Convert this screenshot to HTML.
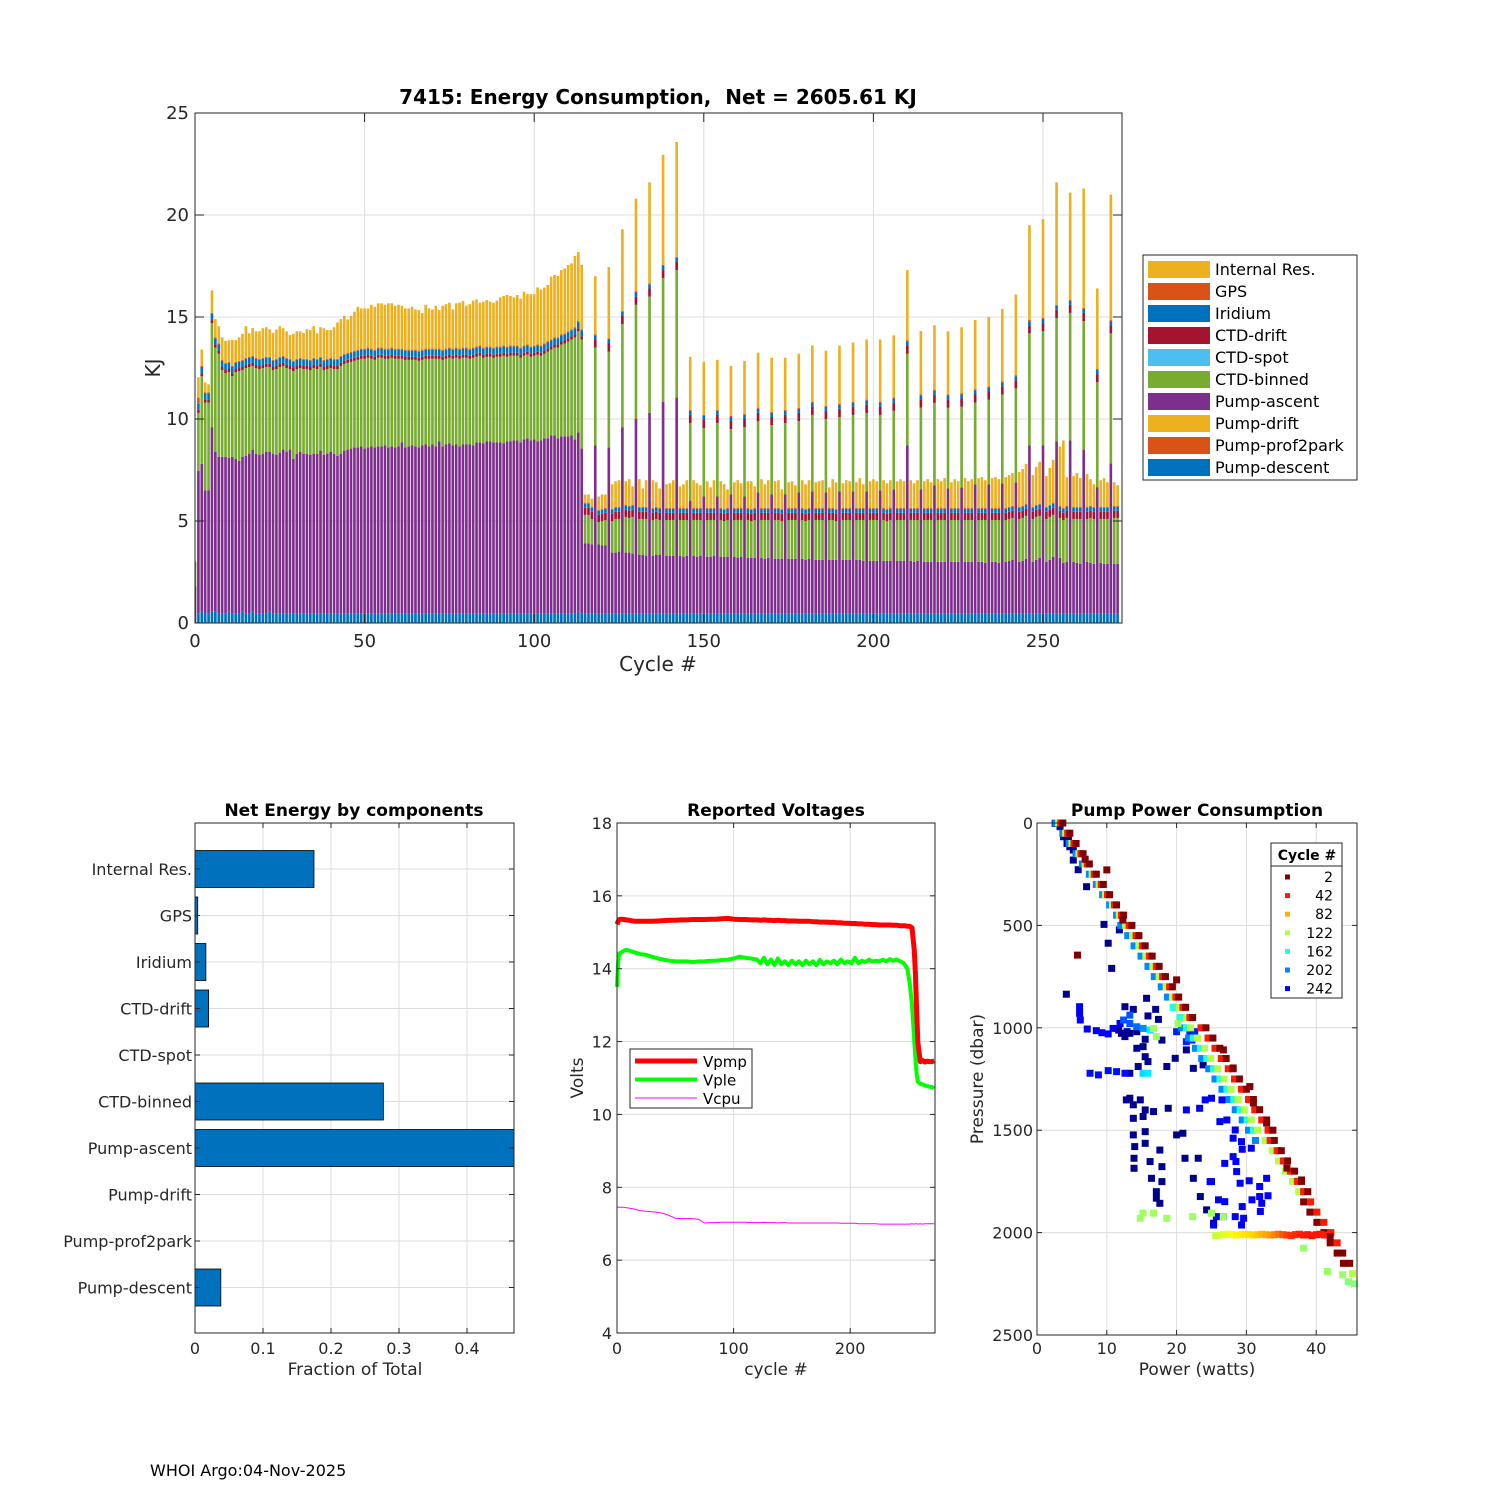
<!DOCTYPE html>
<html><head><meta charset="utf-8"><style>
body{margin:0;background:#fff;}
svg{display:block;font-family:"DejaVu Sans","Liberation Sans",sans-serif;}
</style></head><body>
<svg id="fig" width="1500" height="1500" viewBox="0 0 1500 1500" xmlns="http://www.w3.org/2000/svg">
<rect width="1500" height="1500" fill="#fff"/>
<g id="top"></g>
<g id="bl"></g>
<g id="bm"></g>
<g id="br"></g>
<text x="150" y="1476" font-size="16" fill="#000">WHOI Argo:04-Nov-2025</text>
</svg>
<script>
// ===== Top chart data (per cycle 0..272) =====
const descent=[0.3,0.45,0.55,0.45,0.45,0.55,0.55,0.45,0.45,0.45,
0.55,0.45,0.45,0.45,0.55,0.45,0.45,0.55,0.45,0.45,
0.45,0.45,0.55,0.45,0.45,0.45,0.45,0.45,0.45,0.45,
0.45,0.45,0.45,0.45,0.45,0.45,0.45,0.45,0.45,0.45,
0.45,0.45,0.45,0.45,0.45,0.45,0.45,0.45,0.45,0.45,
0.45,0.45,0.45,0.45,0.45,0.45,0.45,0.45,0.45,0.45,
0.45,0.45,0.45,0.45,0.45,0.45,0.45,0.45,0.45,0.45,
0.45,0.45,0.45,0.45,0.45,0.45,0.45,0.45,0.45,0.45,
0.45,0.45,0.45,0.45,0.45,0.45,0.45,0.45,0.45,0.45,
0.45,0.45,0.45,0.45,0.45,0.45,0.45,0.45,0.45,0.45,
0.45,0.45,0.45,0.45,0.45,0.45,0.45,0.45,0.45,0.45,
0.45,0.45,0.45,0.55,0.45,0.45,0.45,0.45,0.45,0.45,
0.45,0.45,0.45,0.45,0.45,0.45,0.45,0.45,0.45,0.45,
0.45,0.45,0.45,0.45,0.45,0.45,0.45,0.45,0.45,0.45,
0.45,0.45,0.45,0.45,0.45,0.45,0.45,0.45,0.45,0.45,
0.45,0.45,0.45,0.45,0.45,0.45,0.45,0.45,0.45,0.45,
0.45,0.45,0.45,0.45,0.45,0.45,0.45,0.45,0.45,0.45,
0.45,0.45,0.45,0.45,0.45,0.45,0.45,0.45,0.45,0.45,
0.45,0.45,0.45,0.45,0.45,0.45,0.45,0.45,0.45,0.45,
0.45,0.45,0.45,0.45,0.45,0.45,0.45,0.45,0.45,0.45,
0.45,0.45,0.45,0.45,0.45,0.45,0.45,0.45,0.45,0.45,
0.45,0.45,0.45,0.45,0.45,0.45,0.45,0.45,0.45,0.45,
0.45,0.45,0.45,0.45,0.45,0.45,0.45,0.45,0.45,0.45,
0.45,0.45,0.45,0.45,0.45,0.45,0.45,0.45,0.45,0.45,
0.45,0.45,0.45,0.45,0.45,0.45,0.45,0.45,0.45,0.45,
0.45,0.45,0.45,0.45,0.45,0.45,0.45,0.45,0.45,0.45,
0.45,0.45,0.45,0.45,0.45,0.45,0.45,0.45,0.45,0.45,
0.45,0.45,0.45];
const ascent=[1.5,7.0,7.25,6.05,6.05,9.05,7.85,7.7,7.7,7.7,
7.55,7.7,7.6,7.5,7.6,7.75,7.85,7.95,7.85,7.8,
7.85,7.95,7.85,7.85,7.8,7.9,8.05,7.95,8.05,7.6,
7.85,7.95,7.85,7.85,7.8,7.85,7.85,8.0,7.8,7.85,
7.95,7.85,7.75,7.85,8.0,8.05,8.1,8.15,8.15,8.2,
8.1,8.15,8.2,8.15,8.2,8.2,8.25,8.15,8.2,8.15,
8.2,8.4,8.15,8.2,8.25,8.2,8.15,8.25,8.3,8.2,
8.3,8.2,8.45,8.2,8.3,8.35,8.25,8.3,8.2,8.3,
8.3,8.3,8.25,8.4,8.4,8.35,8.45,8.45,8.4,8.4,
8.4,8.35,8.45,8.45,8.5,8.5,8.4,8.55,8.6,8.5,
8.55,8.45,8.5,8.6,8.6,8.75,8.75,8.6,8.7,8.7,
8.7,8.75,8.55,8.8,8.1,
3.45,3.45,3.4,8.25,3.4,
3.35,3.35,8.15,3.0,3.0,3.05,9.15,3.0,3.0,2.95,
9.55,2.9,2.9,2.85,9.85,2.85,2.9,2.9,10.4,2.85,
2.85,2.85,10.6,2.85,2.8,2.85,5.55,2.85,2.8,2.85,
5.75,2.8,2.8,2.85,5.75,2.8,2.8,2.8,5.85,2.8,
2.75,2.8,5.75,2.75,2.75,2.75,5.95,2.75,2.7,2.75,
5.85,2.7,2.7,2.7,5.85,2.7,2.7,2.7,5.95,2.7,
2.65,2.7,6.0,2.65,2.65,2.65,5.95,2.65,2.65,2.65,
6.0,2.65,2.65,2.65,6.0,2.65,2.65,2.6,6.0,2.6,
2.6,2.6,6.05,2.6,2.6,2.6,6.1,2.6,2.6,2.6,
8.25,2.6,2.55,2.6,6.11,2.55,2.55,2.55,6.29,2.55,
2.55,2.55,6.15,2.55,2.55,2.55,6.2,2.55,2.55,2.55,
6.35,2.55,2.55,2.5,6.35,2.55,2.55,2.5,6.4,2.55,
2.6,2.65,6.45,2.55,2.6,2.7,8.25,2.55,2.65,2.75,
8.25,2.55,2.65,2.8,8.45,2.75,2.5,2.55,8.5,2.55,
2.5,2.45,8.05,2.55,2.5,2.45,6.21,2.5,2.45,2.45,
7.38,2.45,2.45];
const binned=[1.1,2.85,4.3,4.3,4.3,5.1,5.1,5.05,4.25,4.1,
4.2,3.95,4.25,4.4,4.25,4.3,4.25,4.1,4.2,4.2,
4.2,4.15,4.15,4.1,4.2,4.2,4.1,4.1,3.95,4.3,
4.15,4.1,4.15,4.15,4.15,4.2,4.15,4.1,4.15,4.15,
4.1,4.15,4.25,4.3,4.25,4.25,4.25,4.25,4.3,4.3,
4.4,4.4,4.3,4.3,4.35,4.35,4.25,4.35,4.35,4.35,
4.3,4.1,4.3,4.25,4.2,4.25,4.25,4.2,4.2,4.3,
4.2,4.3,4.05,4.25,4.2,4.2,4.25,4.25,4.3,4.25,
4.25,4.2,4.3,4.2,4.25,4.2,4.15,4.15,4.15,4.2,
4.2,4.3,4.15,4.2,4.15,4.15,4.15,4.1,4.1,4.1,
4.1,4.25,4.15,4.15,4.25,4.2,4.3,4.45,4.5,4.55,
4.65,4.7,5.0,4.95,5.35,
1.4,1.4,1.25,4.8,1.1,
1.2,1.25,4.7,1.55,1.65,1.6,5.05,1.75,1.7,1.8,
5.6,1.75,1.75,1.8,5.7,1.75,1.75,1.7,6.05,1.75,
1.75,1.75,6.25,1.75,1.8,1.75,3.8,1.75,1.8,1.75,
3.35,1.8,1.8,1.75,3.6,1.8,1.75,1.8,3.2,1.8,
1.85,1.8,3.4,1.85,1.8,1.85,3.5,1.85,1.9,1.85,
3.4,1.9,1.9,1.85,3.5,1.9,1.9,1.9,3.5,1.9,
1.9,1.9,3.75,1.95,1.95,1.95,3.6,1.95,1.95,1.9,
3.65,1.95,1.95,1.95,3.75,1.95,1.95,2.0,3.85,2.0,
2.0,2.0,3.7,2.0,1.95,2.0,3.85,2.0,2.0,2.0,
4.5,2.0,2.05,2.0,4.0,2.05,2.05,2.05,4.05,2.05,
2.05,2.05,3.95,2.05,2.05,2.05,3.95,2.05,2.05,2.05,
4.0,2.05,2.05,2.1,4.15,2.05,2.05,2.1,4.35,2.05,
2.05,2.05,4.6,2.1,2.1,2.1,5.5,2.1,2.1,2.05,
5.6,2.1,2.1,2.05,6.05,1.95,2.1,2.15,6.25,2.1,
2.15,2.2,6.3,2.1,2.2,2.2,5.14,2.15,2.2,2.2,
6.37,2.25,2.25];
const ctdDrift=[0.05,0.15,0.15,0.15,0.15,0.15,0.15,0.15,0.15,0.15,
0.15,0.15,0.15,0.15,0.15,0.15,0.15,0.15,0.15,0.15,
0.15,0.15,0.15,0.15,0.15,0.15,0.15,0.15,0.15,0.15,
0.15,0.15,0.15,0.15,0.15,0.15,0.15,0.15,0.15,0.15,
0.15,0.15,0.15,0.15,0.15,0.15,0.15,0.15,0.15,0.15,
0.15,0.15,0.15,0.15,0.15,0.15,0.15,0.15,0.15,0.15,
0.15,0.15,0.15,0.15,0.15,0.15,0.15,0.15,0.15,0.15,
0.15,0.15,0.15,0.15,0.15,0.15,0.15,0.15,0.15,0.15,
0.15,0.15,0.15,0.15,0.15,0.15,0.15,0.15,0.15,0.15,
0.15,0.15,0.15,0.15,0.15,0.15,0.15,0.15,0.15,0.15,
0.15,0.15,0.15,0.15,0.15,0.15,0.15,0.15,0.15,0.15,
0.15,0.15,0.15,0.15,0.15,
0.35,0.35,0.35,0.4,0.35,0.35,0.35,0.4,0.35,0.35,0.35,0.4,0.35,0.35,0.35,0.4,
0.35,0.35,0.35,0.4,0.35,0.35,0.35,0.4,0.35,0.35,0.35,0.4,0.35,0.35,0.35,0.4,
0.35,0.35,0.35,0.4,0.35,0.35,0.35,0.4,0.35,0.35,0.35,0.4,0.35,0.35,0.35,0.4,
0.35,0.35,0.35,0.4,0.35,0.35,0.35,0.4,0.35,0.35,0.35,0.4,0.35,0.35,0.35,0.4,
0.35,0.35,0.35,0.4,0.35,0.35,0.35,0.4,0.35,0.35,0.35,0.4,0.35,0.35,0.35,0.4,
0.35,0.35,0.35,0.4,0.35,0.35,0.35,0.4,0.35,0.35,0.35,0.4,0.35,0.35,0.35,0.4,
0.35,0.35,0.35,0.4,0.35,0.35,0.35,0.4,0.35,0.35,0.35,0.4,0.35,0.35,0.35,0.4,
0.35,0.35,0.35,0.4,0.35,0.35,0.35,0.4,0.35,0.35,0.35,0.4,0.35,0.35,0.35,0.4,
0.35,0.35,0.35,0.4,0.35,0.35,0.35,0.4,0.35,0.35,0.35,0.4,0.35,0.35,0.35,0.4,
0.35,0.35,0.35,0.4,0.35,0.35,0.35,0.4,0.35,0.35,0.35,0.4,
0.35,0.35];
const iridium=[0,0.3,0.3,0.3,0.3,0.3,0.3,0.3,0.3,0.3,
0.3,0.3,0.3,0.3,0.3,0.3,0.3,0.3,0.3,0.3,
0.3,0.3,0.3,0.3,0.3,0.3,0.3,0.3,0.3,0.3,
0.3,0.3,0.3,0.3,0.3,0.3,0.3,0.3,0.3,0.3,
0.3,0.3,0.3,0.3,0.3,0.3,0.3,0.3,0.3,0.3,
0.3,0.3,0.3,0.3,0.3,0.3,0.3,0.3,0.3,0.3,
0.3,0.3,0.3,0.3,0.3,0.3,0.3,0.3,0.3,0.3,
0.3,0.3,0.3,0.3,0.3,0.3,0.3,0.3,0.3,0.3,
0.3,0.3,0.3,0.3,0.3,0.3,0.3,0.3,0.3,0.3,
0.3,0.3,0.3,0.3,0.3,0.3,0.3,0.3,0.3,0.3,
0.3,0.3,0.3,0.3,0.3,0.3,0.3,0.3,0.3,0.3,
0.3,0.3,0.3,0.3,0.3,
0.2,0.2,0.2,0.2,0.2,0.2,0.2,0.2,0.2,0.2,0.2,0.2,0.2,0.2,0.2,0.2,0.2,0.2,0.2,0.2,
0.2,0.2,0.2,0.2,0.2,0.2,0.2,0.2,0.2,0.2,0.2,0.2,0.2,0.2,0.2,0.2,0.2,0.2,0.2,0.2,
0.2,0.2,0.2,0.2,0.2,0.2,0.2,0.2,0.2,0.2,0.2,0.2,0.2,0.2,0.2,0.2,0.2,0.2,0.2,0.2,
0.2,0.2,0.2,0.2,0.2,0.2,0.2,0.2,0.2,0.2,0.2,0.2,0.2,0.2,0.2,0.2,0.2,0.2,0.2,0.2,
0.2,0.2,0.2,0.2,0.2,0.2,0.2,0.2,0.2,0.2,0.2,0.2,0.2,0.2,0.2,0.2,0.2,0.2,0.2,0.2,
0.2,0.2,0.2,0.2,0.2,0.2,0.2,0.2,0.2,0.2,0.2,0.2,0.2,0.2,0.2,0.2,0.2,0.2,0.2,0.2,
0.2,0.2,0.2,0.2,0.2,0.2,0.2,0.2,0.2,0.2,0.2,0.2,0.2,0.2,0.2,0.2,0.2,0.2,0.2,0.2,
0.2,0.2,0.2,0.2,0.2,0.2,0.2,0.2,0.2,0.2,0.2,0.2,0.2,0.2,0.2,0.2,0.2,0.2];
const gps=[0,0.3,0.05,0.05,0.05,0.05,0.05,0.05,0.05,0.05,
0.05,0.05,0.05,0.05,0.05,0.05,0.05,0.05,0.05,0.05,0.05,0.05,0.05,0.05,0.05,0.05,0.05,0.05,0.05,0.05,
0.05,0.05,0.05,0.05,0.05,0.05,0.05,0.05,0.05,0.05,0.05,0.05,0.05,0.05,0.05,0.05,0.05,0.05,0.05,0.05,
0.05,0.05,0.05,0.05,0.05,0.05,0.05,0.05,0.05,0.05,0.05,0.05,0.05,0.05,0.05,0.05,0.05,0.05,0.05,0.05,
0.05,0.05,0.05,0.05,0.05,0.05,0.05,0.05,0.05,0.05,0.05,0.05,0.05,0.05,0.05,0.05,0.05,0.05,0.05,0.05,
0.05,0.05,0.05,0.05,0.05,0.05,0.05,0.05,0.05,0.05,0.05,0.05,0.05,0.05,0.05,0.05,0.05,0.05,0.05,0.05,
0.05,0.05,0.05,0.05,0.05,0.05,0.05,0.05,0.05,0.05,0.05,0.05,0.05,0.05,0.05,0.05,0.05,0.05,0.05,0.05,
0.05,0.05,0.05,0.05,0.05,0.05,0.05,0.05,0.05,0.05,0.05,0.05,0.05,0.05,0.05,0.05,0.05,0.05,0.05,0.05,
0.05,0.05,0.05,0.05,0.05,0.05,0.05,0.05,0.05,0.05,0.05,0.05,0.05,0.05,0.05,0.05,0.05,0.05,0.05,0.05,
0.05,0.05,0.05,0.05,0.05,0.05,0.05,0.05,0.05,0.05,0.05,0.05,0.05,0.05,0.05,0.05,0.05,0.05,0.05,0.05,
0.05,0.05,0.05,0.05,0.05,0.05,0.05,0.05,0.05,0.05,0.05,0.05,0.05,0.05,0.05,0.05,0.05,0.05,0.05,0.05,
0.05,0.05,0.05,0.05,0.05,0.05,0.05,0.05,0.05,0.05,0.05,0.05,0.05,0.05,0.05,0.05,0.05,0.05,0.05,0.05,
0.05,0.05,0.05,0.05,0.05,0.05,0.05,0.05,0.05,0.05,0.05,0.05,0.05,0.05,0.05,0.05,0.05,0.05,0.05,0.05,
0.05,0.05,0.05,0.05,0.05,0.05,0.05,0.05,0.05,0.05,0.05,0.05,0.05,0.05,0.05,0.05,0.05,0.05,0.05,0.05,
0.05,0.05,0.05];
const internalRes=[0.1,1.0,0.8,0.5,0.4,1.1,0.9,0.85,1.1,1.08,
1.06,1.27,1.07,1.15,1.27,1.55,1.15,1.36,1.3,1.35,
1.45,1.45,1.35,1.32,1.44,1.5,1.35,1.3,1.17,1.32,
1.35,1.3,1.27,1.45,1.46,1.55,1.25,1.45,1.55,1.41,
1.36,1.55,1.78,1.8,1.85,1.63,1.75,1.91,2.1,1.97,
1.97,1.92,2.15,2.1,2.17,2.17,2.15,2.22,2.17,2.1,
2.15,2.1,2.02,2.02,2.1,1.97,1.99,1.8,2.15,1.97,
1.92,2.1,1.89,2.15,2.18,2.2,1.92,2.17,2.25,2.28,
2.05,2.18,2.3,2.31,2.1,2.25,2.28,2.2,2.2,2.25,
2.41,2.43,2.53,2.43,2.36,2.48,2.4,2.64,2.47,2.57,
2.52,2.8,2.75,2.74,2.77,3.08,3.06,3.01,3.15,3.18,
3.25,3.23,3.49,3.39,3.15,
0.4,0.4,0.4,2.85,0.65,
0.7,0.65,3.5,1.2,1.25,1.3,4.0,1.15,1.3,0.9,
4.55,1.35,0.9,1.3,4.95,1.35,1.2,0.95,5.4,1.15,
1.2,1.35,5.63,1.05,1.15,1.35,2.6,1.35,1.2,1.1,
2.6,1.3,1.0,1.35,2.45,1.3,1.2,0.9,2.45,1.25,
1.35,1.2,2.6,1.3,1.35,1.05,2.7,1.4,1.15,1.35,
2.65,1.3,1.35,0.95,2.55,1.25,1.3,1.1,2.65,1.35,
1.2,1.35,2.75,1.25,1.3,1.35,2.7,1.0,1.4,1.3,
2.85,1.2,1.35,1.3,2.9,1.25,1.45,1.15,2.95,1.3,
1.4,1.3,3.05,1.35,1.25,1.35,3.05,1.3,1.4,1.3,
3.45,1.35,1.2,1.35,3.1,1.3,1.4,1.25,3.15,1.4,
1.3,1.45,3.1,1.25,1.4,1.3,3.25,1.45,1.3,1.4,
3.4,1.45,1.5,1.35,3.4,1.45,1.5,1.4,3.55,1.5,
1.55,1.6,3.95,1.7,1.8,1.95,4.65,1.55,1.85,2.05,
4.85,1.5,1.8,2.1,6.0,2.9,3.3,1.4,5.25,1.5,
1.65,1.4,5.85,1.6,1.3,1.1,3.95,1.3,1.4,1.2,
6.15,1.15,1.0];
const topXTicks=[0,50,100,150,200,250];
const topYTicks=[0,5,10,15,20,25];
const legendNames=["Internal Res.","GPS","Iridium","CTD-drift","CTD-spot","CTD-binned","Pump-ascent","Pump-drift","Pump-prof2park","Pump-descent"];

// ===== Net energy by components =====
const compNames=["Internal Res.","GPS","Iridium","CTD-drift","CTD-spot","CTD-binned","Pump-ascent","Pump-drift","Pump-prof2park","Pump-descent"];
const compFrac=[0.175,0.004,0.016,0.020,0,0.277,0.470,0,0,0.038];
const fracTicks=[0,0.1,0.2,0.3,0.4];

// ===== Voltages =====
const voltCycle=[0,1,2,4,6,8,10,15,20,25,30,35,40,45,50,55,60,65,70,75,80,85,90,95,100,105,110,115,120,
123,126,129,132,135,138,141,144,147,150,153,156,159,162,165,168,171,174,177,180,183,186,189,192,195,198,201,204,207,210,213,216,219,222,225,228,231,234,237,240,243,246,249,
251,253,255,256,257,258,260,262,264,266,268,270,272];
const vpmp=[15.22,15.3,15.35,15.36,15.35,15.34,15.33,
15.3,15.3,15.3,15.3,15.31,15.32,15.33,15.33,15.34,15.34,15.35,15.35,15.35,15.36,15.36,15.37,15.38,15.36,15.35,15.35,15.34,15.34,
15.33,15.34,15.33,15.33,15.32,15.33,15.32,15.32,15.31,15.31,15.31,15.3,15.3,15.3,15.3,15.29,15.29,15.28,15.28,15.28,15.27,15.27,15.26,15.26,15.25,15.25,15.24,15.24,15.23,15.23,15.22,15.22,15.21,15.21,15.2,15.2,15.2,15.2,15.19,15.19,15.18,15.18,15.17,
15.16,15.12,14.5,13.8,12.8,12.0,11.45,11.48,11.44,11.46,11.45,11.45,11.47];
const vple=[13.5,14.2,14.42,14.45,14.5,14.52,14.5,
14.45,14.4,14.38,14.33,14.28,14.25,14.22,14.2,14.2,14.2,14.18,14.2,14.2,14.22,14.22,14.24,14.25,14.28,14.33,14.3,14.28,14.25,
14.15,14.3,14.12,14.25,14.1,14.28,14.12,14.2,14.1,14.22,14.12,14.2,14.1,14.22,14.12,14.2,14.1,14.24,14.12,14.2,14.15,14.22,14.12,14.25,14.15,14.2,14.15,14.3,14.15,14.22,14.18,14.25,14.2,14.22,14.2,14.25,14.2,14.26,14.22,14.25,14.2,14.15,14.0,
13.6,13.0,12.0,11.5,11.1,10.9,10.85,10.82,10.8,10.78,10.76,10.75,10.72];
const vcpu=[7.45,7.45,7.45,7.45,7.45,7.44,7.43,
7.40,7.36,7.34,7.33,7.31,7.28,7.22,7.15,7.14,7.14,7.14,7.12,7.02,7.03,7.03,7.04,7.04,7.04,7.04,7.04,7.03,7.03,
7.03,7.04,7.03,7.03,7.03,7.02,7.03,7.03,7.02,7.02,7.02,7.02,7.02,7.02,7.02,7.02,7.02,7.02,7.02,7.02,7.02,7.02,7.02,7.01,7.01,7.01,7.01,7.01,7.0,7.0,7.0,7.0,7.0,7.0,6.99,6.99,6.99,6.99,6.99,6.99,6.99,6.99,6.99,
6.99,7.0,6.99,7.0,7.0,6.99,7.0,6.99,7.0,7.0,7.0,7.0,7.0];
const voltYTicks=[4,6,8,10,12,14,16,18];
const voltXTicks=[0,100,200];

// ===== Pump power =====
const diagPres=[0,50,100,150,200,250,300,350,400,450,500,550,600,650,700,750,800,850,900,950,1000,1050,1100,1150,1200,1250,1300,1350,1400,1450,1500,1550,1600,1650,1700,1750,1800,1850,1900,1950,2000,2050,2100,2150,2200];
const diagCycles=[2,42,122,162,202];
const diagPowC2=[3.7,4.7,5.6,6.6,7.5,8.5,9.5,10.4,11.4,12.4,13.6,14.6,15.5,16.5,17.5,18.4,19.4,20.3,21.3,22.3,24.2,25.2,26.2,27.1,28.1,29.0,30.0,31.0,31.9,32.9,33.8,34.0,35.0,35.9,36.9,37.9,38.8,38.2,39.1,40.1,41.1,42.0,43.0,43.9,null];
const diagPowC42=[3.4,4.4,5.3,6.3,7.2,8.2,9.2,10.1,11.1,12.1,13.2,14.2,15.1,16.1,17.1,18.0,19.0,19.9,20.9,21.9,23.5,24.5,25.5,26.4,27.4,28.3,29.3,30.3,31.2,32.2,33.1,33.4,34.4,35.3,36.3,37.3,38.2,39.2,40.1,41.1,42.1,43.0,null,null,null];
const diagPowC122=[3.1,4.1,5.0,6.0,6.9,7.9,8.9,9.8,10.8,11.8,12.7,13.7,14.6,15.6,16.6,17.5,18.5,19.4,20.4,21.4,22.0,23.0,24.0,24.9,25.9,26.8,27.8,28.8,29.7,30.7,31.6,32.7,33.7,34.6,35.6,36.6,37.5,38.5,39.4,40.4,41.4,42.3,43.3,44.2,45.2];
const diagPowC162=[null,null,null,null,null,null,null,null,null,null,null,null,null,null,null,null,null,null,19.5,20.5,21.4,22.4,23.4,24.3,25.3,26.2,27.2,28.2,29.1,30.1,31.0,null,null,null,null,null,null,null,null,null,null,null,null,null,null];
const diagPowC202=[2.7,3.7,4.6,5.6,6.5,7.5,8.5,9.4,10.4,11.4,12.0,13.0,13.9,14.9,15.9,16.8,17.8,18.7,19.7,20.7,20.7,21.7,22.7,23.6,24.6,25.5,26.5,27.5,28.4,29.4,30.3,31.3,null,null,null,null,null,null,null,null,null,null,null,null,null];
const bandPower=[25.6,26.2,26.8,27.4,28.0,28.6,29.2,29.8,30.4,31.0,31.6,32.2,32.8,33.4,34.0,34.6,35.2,35.8,36.4,37.0,37.6,38.2,38.8,39.4,40.0,40.6,41.2];
const bandPres=[2015,2012,2010,2008,2010,2012,2010,2008,2010,2012,2010,2008,2010,2012,2010,2008,2010,2012,2015,2010,2008,2012,2010,2015,2010,2008,2012];
const bandCycle=[118,115,112,108,104,100,98,96,94,92,88,84,80,76,70,64,58,52,48,46,44,42,40,40,40,40,42];
const outPower=[2.6,3.3,3.8,4.3,4.7,3.8,5.2,3.1,4.5,5.2,5.9,7.1,9.6,10.2,11.8,10.7,4.2,12.6,13.8,15.7,17.0,15.9,17.4,12.9,11.7,12.1,13.3,14.3,12.6,15.5,17.9,14.3,15.2,15.5,15.9,14.5,13.3,12.8,13.8,13.3,14.8,15.5,13.8,15.2,15.5,13.8,15.5,14.0,13.9,13.9,16.2,17.6,16.4,17.9,17.9,17.1,17.1,17.6,18.6,18.8,16.7,20.0,20.9,21.2,22.4,23.1,23.4,24.3,25.3,19.8,21.4,22.4,23.8,
6.1,6.1,6.2,7.2,8.5,9.3,10.2,10.9,11.9,7.6,8.8,10.2,11.4,12.6,21.4,23.3,24.1,25.0,26.5,26.2,27.2,28.4,28.1,29.3,29.4,30.7,28.1,26.9,28.5,28.6,30.4,29.1,31.9,32.9,33.1,31.9,30.8,32.2,32.0,29.4,26.9,24.8,25.0,26.0,25.7,26.7,28.4,29.6,29.3,25.3,21.9,22.6,21.4,20.0,22.2,
12.4,13.3,14.3,13.3,15.2,16.2,15.2,15.9,
14.8,15.2,16.7,18.6,22.3,25.0,26.7,16.7,17.1,20.2,38.2,41.6,43.8,45.5,44.6,
5.8,12.3,20.0,26.7,28.1,30.5,31.0,32.9,35.8,37.9,42.0,44.8,43.8,6.9,10.0];
const outPres=[2,18,51,100,116,67,132,0,67,181,228,311,495,587,522,710,836,897,910,856,910,942,959,1019,1011,1027,1027,1019,1043,1056,1060,1100,1092,1141,1165,1189,1222,1352,1376,1344,1352,1401,1442,1433,1507,1523,1564,1580,1637,1686,1653,1597,1735,1678,1751,1800,1832,1857,1189,1393,1409,1523,1515,1637,1735,1637,1824,1889,1954,1149,1108,1198,1181,
897,929,962,1006,1014,1024,1030,1003,979,1222,1230,1209,1214,1222,1401,1393,1352,1344,1352,1458,1450,1499,1539,1556,1593,1588,1629,1662,1653,1702,1747,1759,1775,1735,1820,1824,1840,1857,1897,1873,1849,1751,1751,1840,1922,1922,1922,1930,1963,1963,1019,1019,1068,1019,1060,
962,979,995,938,1003,1011,1222,1222,
1930,1905,1905,1930,1922,1905,1922,1003,1043,979,2076,2190,2206,2250,2240,
645,474,766,1108,1196,1287,1367,1465,1685,1743,2020,2150,2100,177,229];
const outCycle=[268,268,268,268,268,268,268,268,268,268,268,268,268,268,268,268,268,268,268,268,268,268,268,268,268,268,268,268,268,268,268,268,268,268,268,268,268,268,268,268,268,268,268,268,268,268,268,268,268,268,268,268,268,268,268,268,268,268,268,268,268,268,268,268,268,268,268,268,268,268,268,268,268,
240,240,240,240,240,240,240,240,240,235,235,235,235,235,240,240,240,240,240,240,240,240,240,240,240,240,240,240,240,240,240,240,240,240,240,240,240,240,240,240,240,240,240,240,240,240,240,240,240,240,230,230,230,230,230,
215,215,210,215,200,175,180,175,
128,128,128,128,128,128,128,128,128,128,130,130,130,135,135,
2,2,2,2,2,2,2,2,2,2,2,2,2,2,2];
const pumpYTicks=[0,500,1000,1500,2000,2500];
const pumpXTicks=[0,10,20,30,40];
const legendCycles=[2,42,82,122,162,202,242];

// ===== helpers =====
const NS="http://www.w3.org/2000/svg";
function mk(parent,tag,attrs,text){const e=document.createElementNS(NS,tag);for(const k in attrs)e.setAttribute(k,attrs[k]);if(text!==undefined)e.textContent=text;parent.appendChild(e);return e;}
function jet(cycle){let t=1-(cycle-1)/271;t=Math.max(0,Math.min(1,t));const c=v=>Math.round(255*Math.max(0,Math.min(1,v)));
return `rgb(${c(1.5-Math.abs(4*t-3))},${c(1.5-Math.abs(4*t-2))},${c(1.5-Math.abs(4*t-1))})`;}
function frame(g,x0,y0,x1,y1){const r=mk(g,'rect',{x:x0,y:y0,width:x1-x0,height:y1-y0,fill:'none',stroke:'#262626','stroke-width':1});

}

// ===== Top chart =====
(function(){
const g=document.getElementById('top');
const X0=195,X1=1122,Y0=113,Y1=623;
const xs=c=>X0+c*3.392, ys=v=>Y1-v*20.4;
for(const t of topYTicks){if(t>0&&t<25){const l=mk(g,'line',{x1:X0,x2:X1,y1:ys(t),y2:ys(t),stroke:'#dcdcdc','stroke-width':1});

}}
for(const t of topXTicks){if(t>0){const l=mk(g,'line',{x1:xs(t),x2:xs(t),y1:Y0,y2:Y1,stroke:'#dcdcdc','stroke-width':1});

}}
const series=[[descent,'#0072BD','pump-descent'],[ascent,'#7E2F8E','pump-ascent'],[binned,'#77AC30','ctd-binned'],[ctdDrift,'#A2142F','ctd-drift'],[iridium,'#0072BD','iridium'],[gps,'#D95319','gps'],[internalRes,'#EDB120','internal-res']];
const bw=3.392*0.78;
for(let c=0;c<descent.length;c++){
 let base=0;
 for(const [arr,col,nm] of series){const v=arr[c]||0;if(v<=0)continue;
  const r=mk(g,'rect',{x:xs(c)-bw/2,y:ys(base+v),width:bw,height:v*20.4,fill:col});
  
  
  base+=v;}
}
const cl=mk(g,'rect',{x:180,y:Y0,width:X0-180,height:Y1-Y0+1,fill:'#fff'});


frame(g,X0,Y0,X1,Y1);
for(const t of topYTicks){const y=ys(t);
 mk(g,'line',{x1:X0,x2:X0+9,y1:y,y2:y,stroke:'#262626'});mk(g,'line',{x1:X1-9,x2:X1,y1:y,y2:y,stroke:'#262626'});
 const tx=mk(g,'text',{x:X0-6,y:y+6,'font-size':18,'text-anchor':'end',fill:'#262626'},t);
 
 }
for(const t of topXTicks){const x=xs(t);
 mk(g,'line',{x1:x,x2:x,y1:Y1,y2:Y1-9,stroke:'#262626'});mk(g,'line',{x1:x,x2:x,y1:Y0,y2:Y0+9,stroke:'#262626'});
 const tx=mk(g,'text',{x:x,y:Y1+24,'font-size':18,'text-anchor':'middle',fill:'#262626'},t);
 
 }
const ti=mk(g,'text',{x:658,y:104,'font-size':20,'font-weight':'bold','text-anchor':'middle',fill:'#000',style:'white-space:pre'},'7415: Energy Consumption,  Net = 2605.61 KJ');


const xl=mk(g,'text',{x:658,y:671,'font-size':20,'text-anchor':'middle',fill:'#262626'},'Cycle #');


const yl=mk(g,'text',{x:0,y:0,'font-size':20,'text-anchor':'middle',fill:'#262626',transform:'translate(160,368) rotate(-90)'},'KJ');


const lg=mk(g,'g',{});


mk(lg,'rect',{x:1143,y:255,width:214,height:225,fill:'#fff',stroke:'#262626','stroke-width':1});
const lcol=['#EDB120','#D95319','#0072BD','#A2142F','#4DBEEE','#77AC30','#7E2F8E','#EDB120','#D95319','#0072BD'];
legendNames.forEach((n,i)=>{const y=269+i*22;
 const e=mk(lg,'g',{});
 
 
 mk(e,'rect',{x:1148,y:y-8,width:62,height:17,fill:lcol[i]});
 mk(e,'text',{x:1215,y:y+6,'font-size':16,fill:'#000'},n);});
})();

// ===== Net energy by components =====
(function(){
const g=document.getElementById('bl');
const X0=195,X1=514,Y0=823,Y1=1333;
const xs=v=>X0+v*680, ys=i=>869+i*46.5;
for(const t of fracTicks){if(t>0){const l=mk(g,'line',{x1:xs(t),x2:xs(t),y1:Y0,y2:Y1,stroke:'#dcdcdc'});

}}
compNames.forEach((n,i)=>{const l=mk(g,'line',{x1:X0,x2:X1,y1:ys(i),y2:ys(i),stroke:'#dcdcdc'});

});
compFrac.forEach((v,i)=>{if(v<=0)return;const w=Math.min(xs(v),X1)-X0;
 const r=mk(g,'rect',{x:X0,y:ys(i)-18.5,width:w,height:37,fill:'#0072BD',stroke:'#000','stroke-width':0.8});
 
 });
frame(g,X0,Y0,X1,Y1);
compNames.forEach((n,i)=>{const y=ys(i);mk(g,'line',{x1:X0,x2:X0+5,y1:y,y2:y,stroke:'#262626'});mk(g,'line',{x1:X1-5,x2:X1,y1:y,y2:y,stroke:'#262626'});
 const t=mk(g,'text',{x:X0-3,y:y+6,'font-size':16,'text-anchor':'end',fill:'#262626'},n);
 
 });
fracTicks.forEach(v=>{const x=xs(v);mk(g,'line',{x1:x,x2:x,y1:Y1,y2:Y1-5,stroke:'#262626'});mk(g,'line',{x1:x,x2:x,y1:Y0,y2:Y0+5,stroke:'#262626'});
 const t=mk(g,'text',{x:x,y:Y1+21,'font-size':16,'text-anchor':'middle',fill:'#262626'},v);
 
 });
const ti=mk(g,'text',{x:354,y:816,'font-size':17,'font-weight':'bold','text-anchor':'middle',fill:'#000'},'Net Energy by components');


const xl=mk(g,'text',{x:355,y:1375,'font-size':17,'text-anchor':'middle',fill:'#262626'},'Fraction of Total');


})();

// ===== Voltages =====
(function(){
const g=document.getElementById('bm');
const X0=617,X1=935,Y0=823,Y1=1333;
const xs=c=>X0+c*1.166, ys=v=>Y1-(v-4)*36.43;
voltYTicks.forEach(t=>{if(t>4&&t<18){const l=mk(g,'line',{x1:X0,x2:X1,y1:ys(t),y2:ys(t),stroke:'#dcdcdc'});

}});
voltXTicks.forEach(t=>{if(t>0){const l=mk(g,'line',{x1:xs(t),x2:xs(t),y1:Y0,y2:Y1,stroke:'#dcdcdc'});

}});
function line(arr,col,w,nm){const d=voltCycle.map((c,i)=>(i?'L':'M')+xs(c).toFixed(1)+','+ys(arr[i]).toFixed(1)).join('');
 const p=mk(g,'path',{d:d,fill:'none',stroke:col,'stroke-width':w,'stroke-linejoin':'round'});
 
 }
line(vcpu,'#ff00ff',1,'vcpu-line');
line(vple,'#00ff00',4,'vple-line');
line(vpmp,'#ff0000',5,'vpmp-line');
frame(g,X0,Y0,X1,Y1);
voltYTicks.forEach(t=>{const y=ys(t);mk(g,'line',{x1:X0,x2:X0+5,y1:y,y2:y,stroke:'#262626'});mk(g,'line',{x1:X1-5,x2:X1,y1:y,y2:y,stroke:'#262626'});
 const tx=mk(g,'text',{x:X0-5,y:y+6,'font-size':16,'text-anchor':'end',fill:'#262626'},t);
 
 });
voltXTicks.forEach(t=>{const x=xs(t);mk(g,'line',{x1:x,x2:x,y1:Y1,y2:Y1-5,stroke:'#262626'});mk(g,'line',{x1:x,x2:x,y1:Y0,y2:Y0+5,stroke:'#262626'});
 const tx=mk(g,'text',{x:x,y:Y1+21,'font-size':16,'text-anchor':'middle',fill:'#262626'},t);
 
 });
const ti=mk(g,'text',{x:776,y:816,'font-size':17,'font-weight':'bold','text-anchor':'middle',fill:'#000'},'Reported Voltages');


const xl=mk(g,'text',{x:776,y:1375,'font-size':17,'text-anchor':'middle',fill:'#262626'},'cycle #');


const yl=mk(g,'text',{x:0,y:0,'font-size':17,'text-anchor':'middle',fill:'#262626',transform:'translate(583,1078) rotate(-90)'},'Volts');


const lg=mk(g,'g',{});


mk(lg,'rect',{x:630,y:1049,width:122,height:59,fill:'#fff',stroke:'#262626'});
[['Vpmp','#ff0000',5],['Vple','#00ff00',4],['Vcpu','#ff00ff',1]].forEach((e,i)=>{const y=1061+i*18.5;
 const en=mk(lg,'g',{});
 
 
 mk(en,'line',{x1:635,x2:697,y1:y,y2:y,stroke:e[1],'stroke-width':e[2]});
 mk(en,'text',{x:703,y:y+6,'font-size':15,fill:'#000'},e[0]);});
})();

// ===== Pump power =====
(function(){
const g=document.getElementById('br');
const X0=1037,X1=1357,Y0=823,Y1=1335;
const xs=w=>X0+w*6.98, ys=p=>Y0+p*0.2048;
pumpYTicks.forEach(t=>{if(t>0&&t<2500){const l=mk(g,'line',{x1:X0,x2:X1,y1:ys(t),y2:ys(t),stroke:'#dcdcdc'});

}});
pumpXTicks.forEach(t=>{if(t>0){const l=mk(g,'line',{x1:xs(t),x2:xs(t),y1:Y0,y2:Y1,stroke:'#dcdcdc'});

}});
function dot(w,p,c){const d=mk(g,'rect',{x:xs(w)-3.5,y:ys(p)-3.5,width:7,height:7,fill:jet(c)});
 
 }
for(let i=0;i<outPower.length;i++)if(outCycle[i]>=200)dot(outPower[i],outPres[i],outCycle[i]);
const diag=[diagPowC202,diagPowC162,diagPowC122,diagPowC42,diagPowC2];
const dcyc=[diagCycles[4],diagCycles[3],diagCycles[2],diagCycles[1],diagCycles[0]];
diag.forEach((arr,k)=>{diagPres.forEach((p,i)=>{if(arr[i]!=null)dot(arr[i],p,dcyc[k]);});});
for(let i=0;i<bandPower.length;i++)dot(bandPower[i],bandPres[i],bandCycle[i]);
for(let i=0;i<outPower.length;i++)if(outCycle[i]<200)dot(outPower[i],outPres[i],outCycle[i]);
frame(g,X0,Y0,X1,Y1);
pumpYTicks.forEach(t=>{const y=ys(t);mk(g,'line',{x1:X0,x2:X0+5,y1:y,y2:y,stroke:'#262626'});mk(g,'line',{x1:X1-5,x2:X1,y1:y,y2:y,stroke:'#262626'});
 const tx=mk(g,'text',{x:X0-4,y:y+6,'font-size':16,'text-anchor':'end',fill:'#262626'},t);
 
 });
pumpXTicks.forEach(t=>{const x=xs(t);mk(g,'line',{x1:x,x2:x,y1:Y1,y2:Y1-5,stroke:'#262626'});mk(g,'line',{x1:x,x2:x,y1:Y0,y2:Y0+5,stroke:'#262626'});
 const tx=mk(g,'text',{x:x,y:Y1+19,'font-size':16,'text-anchor':'middle',fill:'#262626'},t);
 
 });
const ti=mk(g,'text',{x:1197,y:816,'font-size':17,'font-weight':'bold','text-anchor':'middle',fill:'#000'},'Pump Power Consumption');


const xl=mk(g,'text',{x:1197,y:1375,'font-size':17,'text-anchor':'middle',fill:'#262626'},'Power (watts)');


const yl=mk(g,'text',{x:0,y:0,'font-size':17,'text-anchor':'middle',fill:'#262626',transform:'translate(983,1079) rotate(-90)'},'Pressure (dbar)');


const lg=mk(g,'g',{});


mk(lg,'rect',{x:1271,y:843,width:71,height:155,fill:'#fff',stroke:'#262626'});
mk(lg,'line',{x1:1271,x2:1342,y1:866,y2:866,stroke:'#262626'});
mk(lg,'text',{x:1307,y:860,'font-size':14,'font-weight':'bold','text-anchor':'middle',fill:'#000'},'Cycle #');
legendCycles.forEach((c,i)=>{const y=877+i*18.6;
 const en=mk(lg,'g',{});
 
 
 mk(en,'rect',{x:1285,y:y-2.5,width:5,height:5,fill:jet(c)});
 mk(en,'text',{x:1333,y:y+5,'font-size':14,'text-anchor':'end',fill:'#000'},c);});
})();
</script>
</body></html>
